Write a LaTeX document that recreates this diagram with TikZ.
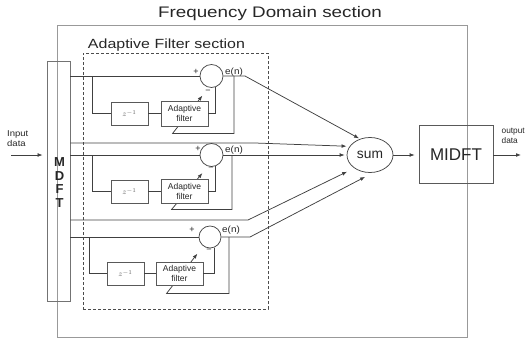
\documentclass[tikz,border=0pt]{standalone}
\usepackage{fontspec}
\setmainfont{Liberation Sans}
\usetikzlibrary{arrows.meta,shapes.geometric}
\pgfdeclarelayer{background}
\pgfsetlayers{background,main}
\newcommand{\stretchtxt}[2][1.2]{\scalebox{#1}[1]{#2}}
\begin{document}
\begin{tikzpicture}[x=1pt,y=-1pt,
  ln/.style={draw=black!75, line width=0.75pt},
  framebox/.style={draw=black!40, line width=0.7pt, inner sep=0pt},
  blk/.style={draw=black!65, line width=0.75pt, fill=white, inner sep=0pt},
  arr/.style={-{Latex[length=5pt,width=3.8pt]}},
  txt/.style={inner sep=0pt, text=black!85},
  small/.style={txt, font=\fontsize{8.5}{9.5}\selectfont, align=center},
  sign/.style={txt, font=\fontsize{9}{9}\selectfont},
  zlab/.style={txt, text=black!60, font=\fontsize{8}{8}\selectfont},
  sumnode/.style={ellipse, draw=black!72, line width=0.75pt, inner sep=0pt}
]
\useasboundingbox (0,0) rectangle (527,343);

% titles
\node[txt, font=\fontsize{15.3}{15.3}\selectfont] (title) at (270,14) {\stretchtxt[1.23]{Frequency Domain section}};
\node[txt, font=\fontsize{13.3}{13.3}\selectfont] (aftitle) at (166.5,45) {\stretchtxt[1.2]{Adaptive Filter section}};

% outer frame and dashed section
\node[framebox, minimum width=410, minimum height=312] (fd) at (262,181) {};
\node[draw=black!70, line width=0.6pt, dash pattern=on 3pt off 2pt, inner sep=0pt,
      minimum width=185, minimum height=256] (afs) at (175.5,181) {};

% MDFT and MIDFT
\node[draw=black!55, line width=0.8pt, inner sep=0pt, minimum width=23, minimum height=240] (mdft) at (58.5,181) {};
\node[txt, font=\fontsize{13}{13.8}\selectfont\bfseries, align=center] (mdftlab) at (59.5,182.5) {M\\D\\F\\T};
\node[draw=black!65, line width=0.75pt, inner sep=0pt, minimum width=74, minimum height=58,
      font=\fontsize{17}{17}\selectfont, text=black!85] (midft) at (456,154.5) {MIDFT};
\node[sumnode, minimum width=46, minimum height=35, font=\fontsize{13.8}{13.8}\selectfont, text=black!85] (sum) at (370,155) {sum};

% circles
\node[circle, draw=black!72, line width=0.75pt, minimum size=23, inner sep=0pt] (c1) at (211.5,76) {};
\node[circle, draw=black!72, line width=0.75pt, minimum size=23, inner sep=0pt] (c2) at (211.5,155) {};
\node[circle, draw=black!72, line width=0.75pt, minimum size=22, inner sep=0pt] (c3) at (210,237) {};

% delay and adaptive filter boxes
\node[blk, minimum width=37, minimum height=23] (z1) at (129.5,113.5) {};
\node[zlab] at (z1) {$z^{-1}$};
\node[blk, minimum width=47, minimum height=25, small] (a1) at (184.5,113.5) {Adaptive\\filter};
\node[blk, minimum width=37, minimum height=23] (z2) at (129.5,191.5) {};
\node[zlab] at (z2) {$z^{-1}$};
\node[blk, minimum width=47, minimum height=24, small] (a2) at (184.5,191.5) {Adaptive\\filter};
\node[blk, minimum width=37, minimum height=23] (z3) at (125.5,273.5) {};
\node[zlab] at (z3) {$z^{-1}$};
\node[blk, minimum width=47, minimum height=23, small] (a3) at (179.5,273.5) {Adaptive\\filter};

% signs and labels
\node[sign] (p1) at (196,72) {+};
\node[sign] (p2) at (198,149) {+};
\node[sign] (p3) at (192,230) {+};
\node[sign] (m1) at (208,92) {−};
\node[sign] (m2) at (211,169) {−};
\node[sign] (m3) at (209,251) {−};
\node[sign] (e1) at (234,72) {\stretchtxt[1.1]{e(n)}};
\node[sign] (e2) at (234,150) {\stretchtxt[1.1]{e(n)}};
\node[sign] (e3) at (231,230) {\stretchtxt[1.1]{e(n)}};

\node[txt, font=\fontsize{8.5}{9.5}\selectfont, align=left, anchor=west] (inlab) at (7,138.5) {\stretchtxt[1.12]{Input}\\\stretchtxt[1.12]{data}};
\node[txt, font=\fontsize{8.3}{9.5}\selectfont, align=left, anchor=west] (outlab) at (501.5,136) {output\\data};

% junction coordinates
\coordinate (j1) at (92,76);
\coordinate (j2) at (92,155);
\coordinate (j3) at (89,237);
\coordinate (f1) at (234,76);
\coordinate (f2) at (232,155);
\coordinate (f3) at (229,237);
\coordinate (k1) at (245,76);
\coordinate (k2) at (255,143);
\coordinate (k4) at (248,220);
\coordinate (k5) at (250,237);
\coordinate (inp) at (11,155);
\coordinate (outp) at (521,155);

% main lines
\draw[ln] (mdft.east |- c1) -- (c1.west);
\draw[ln] (mdft.east |- c2) -- (c2.west);
\draw[ln] (mdft.east |- c3) -- (c3.west);
\draw[ln, arr, shorten >=1pt] (c1.east) -- (k1) -- (sum.122);
\draw[ln, arr, shorten >=3pt] (mdft.east |- k2) -- (k2) -- (sum.157);
\draw[ln, arr, shorten >=2pt] (c2.east) -- (sum.west);
\draw[ln, arr, shorten >=8pt] (mdft.east |- k4) -- (k4) -- (sum.220);
\draw[ln, arr, shorten >=9pt] (c3.east) -- (k5) -- (sum.280);

% inner loops
\draw[ln] (j1) |- (z1.west);
\draw[ln] (z1.east) -- (a1.west);
\draw[ln] (a1.east) -| (c1.-70);
\draw[ln] (j2) |- (z2.west);
\draw[ln] (z2.east) -- (a2.west);
\draw[ln] (a2.east) -| (c2.-70);
\draw[ln] (j3) |- (z3.west);
\draw[ln] (z3.east) -- (a3.west);
\draw[ln] (a3.east) -| (c3.-70);

% feedback (adaptation) paths behind the filter boxes
\begin{pgfonlayer}{background}
\draw[ln, arr] (f1) |- ([xshift=12pt,yshift=-7pt]a1.south west) -- ([xshift=-6pt,yshift=5pt]a1.north east);
\draw[ln, arr] (f2) |- ([xshift=11pt,yshift=-5.5pt]a2.south west) -- ([xshift=-6pt,yshift=6pt]a2.north east);
\draw[ln, arr] (f3) |- ([xshift=11pt,yshift=-8pt]a3.south west) -- ([xshift=-6pt,yshift=8pt]a3.north east);
\end{pgfonlayer}

% input / output
\draw[ln, arr, shorten >=4pt] (inp) -- (mdft.west |- inp);
\draw[ln, arr, shorten >=4pt] (sum.east) -- (midft.west |- sum.east);
\draw[ln, arr] (midft.east |- outp) -- (outp);
\end{tikzpicture}
\end{document}
